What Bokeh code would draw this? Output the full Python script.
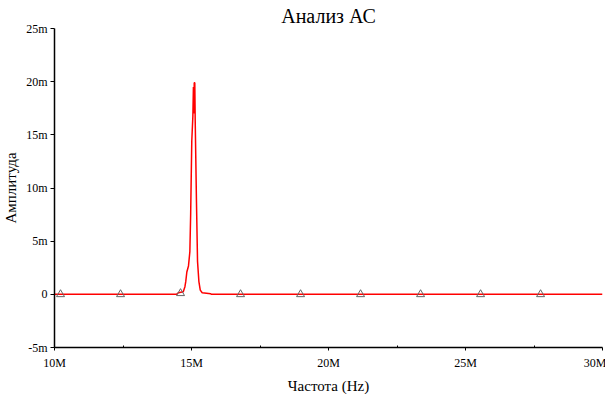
from bokeh.plotting import figure
from bokeh.models import FixedTicker, Range1d, CustomJSTickFormatter
from bokeh.embed import file_html
from bokeh.resources import INLINE

# Frequency in MHz, amplitude in milli-units
freq_mhz = [10.0, 14.45, 14.52, 14.70, 14.76, 14.79, 14.83, 14.89, 14.94, 14.97,
            15.01, 15.05, 15.07, 15.09, 15.10, 15.12, 15.135, 15.18, 15.22,
            15.27, 15.32, 15.39, 15.70, 15.72, 30.0]
amp_m = [0.0, 0.0, 0.15, 0.25, 0.72, 1.19, 2.1, 2.67, 4.0, 7.6,
         14.4, 16.75, 19.5, 17.0, 19.9, 19.9, 16.4, 8.9, 3.1,
         1.2, 0.4, 0.15, 0.05, 0.0, 0.0]

marker_freq = [10.22, 12.41, 14.60, 16.79, 18.98, 21.17, 23.36, 25.55, 27.74]
marker_amp = [0.0, 0.0, 0.1, 0.0, 0.0, 0.0, 0.0, 0.0, 0.0]

x_ticks = [10, 15, 20, 25, 30]
x_tick_labels = ["10M", "15M", "20M", "25M", "30M"]
x_minor = [12.5, 17.5, 22.5, 27.5]
y_ticks = [-5, 0, 5, 10, 15, 20, 25]
y_tick_labels = ["-5m", "0", "5m", "10m", "15m", "20m", "25m"]

FONT = "Liberation Serif"

p = figure(frame_width=548, frame_height=319, output_backend="svg",
           toolbar_location=None,
           x_range=Range1d(10, 30), y_range=Range1d(-5, 25),
           min_border_left=53, min_border_right=4, min_border_top=28,
           min_border_bottom=47)
p.title.text = "Анализ АС"
p.title.align = "center"
p.title.vertical_align = "top"
p.title.text_font = FONT
p.title.text_font_size = "20px"
p.title.text_font_style = "normal"
p.title.text_color = "black"
p.title.offset = 0
p.title.standoff = 0

p.outline_line_color = None
p.xgrid.visible = False
p.ygrid.visible = False

p.line(freq_mhz, amp_m, line_color="red", line_width=1.5)
p.scatter(marker_freq, marker_amp, marker="triangle", size=8,
          fill_color=None, line_color="#666666", line_width=1)

xa = p.xaxis[0]
xa.ticker = FixedTicker(ticks=x_ticks, minor_ticks=x_minor)
xa.formatter = CustomJSTickFormatter(
    args=dict(t=x_ticks, l=x_tick_labels),
    code="const i = t.indexOf(tick); return i >= 0 ? l[i] : '';")
xa.axis_label = "Частота (Hz)"
ya = p.yaxis[0]
ya.ticker = FixedTicker(ticks=y_ticks)
ya.formatter = CustomJSTickFormatter(
    args=dict(t=y_ticks, l=y_tick_labels),
    code="const i = t.indexOf(tick); return i >= 0 ? l[i] : '';")
ya.axis_label = "Амплитуда"

for ax in (xa, ya):
    ax.axis_line_color = "black"
    ax.axis_line_width = 1.5
    ax.major_tick_line_color = "black"
    ax.minor_tick_line_color = "black"
    ax.major_tick_in = 0
    ax.major_tick_out = 3
    ax.minor_tick_in = 2
    ax.minor_tick_out = 0
    ax.major_label_text_font = FONT
    ax.major_label_text_font_style = "normal"
    ax.major_label_text_font_size = "12px"
    ax.major_label_text_color = "black"
    ax.axis_label_text_font = FONT
    ax.axis_label_text_font_size = "15px"
    ax.axis_label_text_font_style = "normal"
    ax.axis_label_text_color = "black"
ya.minor_tick_line_color = None
ya.major_tick_out = 4
xa.major_label_standoff = 5
xa.axis_label_standoff = 5
ya.major_label_standoff = 3
ya.axis_label_standoff = 4

open("out.html", "w").write(file_html(p, INLINE))
